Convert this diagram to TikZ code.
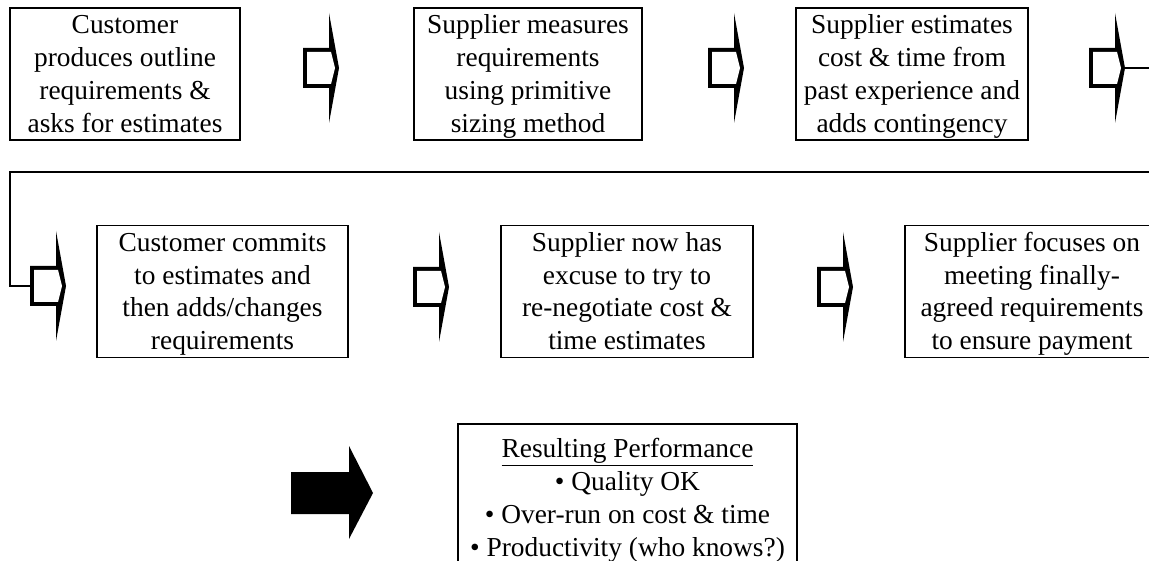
\documentclass[tikz,border=0pt]{standalone}
\usepackage{fontspec}
\setmainfont{Liberation Serif}
\newcommand\mytopstrut{\rule{0pt}{25.5pt}}
\newcommand\mybotstrut{\rule[-7.5pt]{0pt}{7.5pt}}
\begin{document}
\begin{tikzpicture}[x=1pt,y=-1pt,
  txt/.style={font=\fontsize{27.4}{33}\selectfont},
  box/.style={txt, draw, line width=1.6pt, inner sep=0pt, align=center},
  rowone/.style={box, minimum height=132pt},
  rowtwo/.style={box, minimum height=131pt},
  conn/.style={line width=1.5pt},
  chev/.pic={
    \fill[black] (0,-20) -- (26,-20) -- (26,-55) -- (36,0) -- (26,55) -- (26,20) -- (0,20) -- cycle;
    \fill[white] (4,-16) -- (28,-16) -- (32,0) -- (28,16) -- (4,16) -- cycle;
    \coordinate (-tip) at (36,0);
    \coordinate (-tail) at (0,0);
  }
]
\useasboundingbox (0,0) rectangle (1149,561);
\clip (0,0) rectangle (1149,561);

% row 1
\node[rowone, minimum width=230pt] (b1) at (125,74) {\mytopstrut Customer\\produces outline\\requirements \&\\asks for estimates\mybotstrut};
\node[rowone, minimum width=228pt] (b2) at (528,74) {\mytopstrut Supplier measures\\requirements\\using primitive\\sizing method\mybotstrut};
\node[rowone, minimum width=232pt] (b3) at (912,74) {\mytopstrut Supplier estimates\\cost \& time from\\past experience and\\adds contingency\mybotstrut};

% row 2
\node[rowtwo, minimum width=251pt] (b4) at (222.5,291.5) {\mytopstrut Customer commits\\to estimates and\\then adds/changes\\requirements\mybotstrut};
\node[rowtwo, minimum width=252pt] (b5) at (627,291.5) {\mytopstrut Supplier now has\\excuse to try to\\re-negotiate cost \&\\time estimates\mybotstrut};
\node[rowtwo, minimum width=254pt] (b6) at (1032,291.5) {\mytopstrut Supplier focuses on\\meeting finally-\\agreed requirements\\to ensure payment\mybotstrut};

% outlined arrows
\pic (a1) at (303,68) {chev};
\pic (a2) at (708,68) {chev};
\pic (a3) at (1089,68) {chev};
\pic (a4) at (30,286) {chev};
\pic (a5) at (413,287) {chev};
\pic (a6) at (817,287) {chev};

% connector from row 1 to row 2
\coordinate (e1) at (1170,68);
\coordinate (e2) at (1170,172);
\coordinate (c1) at (10,172);
\draw[conn] (a3-tip) -- (e1) -- (e2) -- (c1) |- (a4-tail);

% big black arrow
\fill[black] (291,472) -- (349,472) -- (349,446) -- (373,493) -- (349,539) -- (349,514) -- (291,514) -- cycle;

% result box
\node[box, anchor=north, minimum width=339pt, inner ysep=11pt] (res) at (627.5,423)
  {\strut\underline{Resulting Performance}\\• Quality OK\\• Over-run on cost \& time\\• Productivity (who knows?)\strut};
\end{tikzpicture}
\end{document}
